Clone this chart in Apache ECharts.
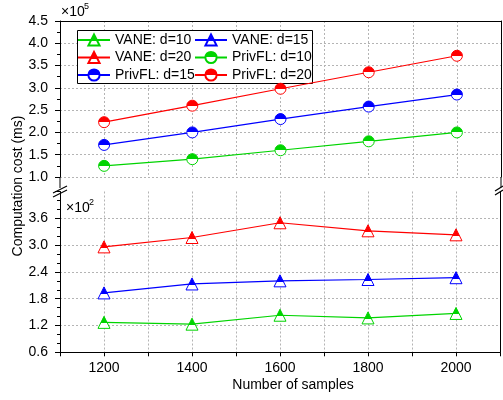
<!DOCTYPE html>
<html>
<head>
<meta charset="utf-8">
<script src="https://cdn.jsdelivr.net/npm/echarts@6/dist/echarts.min.js"></script>
<style>
  html, body { margin: 0; padding: 0; background: #fff; }
  #chart { width: 503px; height: 400px; }
</style>
</head>
<body>
<div id="chart"></div>
<script>
// x values
var samples = [1200, 1400, 1600, 1800, 2000];
// upper panel (x10^5 ms)
var privfl10 = [1.25, 1.40, 1.60, 1.80, 2.00];
var privfl15 = [1.72, 2.00, 2.30, 2.58, 2.85];
var privfl20 = [2.23, 2.60, 2.98, 3.35, 3.72];
// lower panel (x10^2 ms)
var vane10 = [1.27, 1.23, 1.43, 1.37, 1.47];
var vane15 = [1.93, 2.13, 2.20, 2.23, 2.27];
var vane20 = [2.96, 3.17, 3.50, 3.32, 3.23];

var FONT = "'Liberation Sans', Arial, sans-serif";
var GREEN = '#00d400', BLUE = '#0000ff', RED = '#ff0000';

function pairs(arr) {
  return samples.map(function (s, i) { return [s, arr[i]]; });
}

// top half coloured, bottom half white
function halfFill(c, stop) {
  return {
    type: 'linear', x: 0, y: 0, x2: 0, y2: 1,
    colorStops: [
      { offset: 0, color: c }, { offset: stop, color: c },
      { offset: stop, color: '#fff' }, { offset: 1, color: '#fff' }
    ]
  };
}

function makeSeries(name, arr, color, symbol, panel) {
  var tri = symbol === 'triangle';
  return {
    name: name,
    type: 'line',
    xAxisIndex: panel,
    yAxisIndex: panel === 0 ? 0 : 2,
    data: pairs(arr),
    symbol: symbol,
    symbolSize: tri ? 12 : 11,
    showSymbol: true,
    lineStyle: { color: color, width: 1.2 },
    itemStyle: { color: halfFill(color, tri ? 0.58 : 0.5), borderColor: color, borderWidth: 1 },
    emphasis: { disabled: true },
    animation: false
  };
}

var chart = echarts.init(document.getElementById('chart'));

var gridLine = { show: true, lineStyle: { color: '#b4b4b4', type: [2, 2], width: 1 } };
var blackLine = { show: true, onZero: false, lineStyle: { color: '#000', width: 1 } };

var option = {
  backgroundColor: '#fff',
  textStyle: { fontFamily: FONT },
  grid: [
    { left: 60, right: 2, top: 21, height: 156 },
    { left: 60, right: 2, top: 191.5, height: 160.8 }
  ],
  xAxis: [
    {
      gridIndex: 0, type: 'value', position: 'top',
      min: 1100, max: 2100, interval: 100,
      axisLine: blackLine, axisTick: { show: false }, axisLabel: { show: false },
      splitLine: gridLine
    },
    {
      gridIndex: 1, type: 'value', position: 'bottom',
      min: 1100, max: 2100, interval: 100,
      name: 'Number of samples', nameLocation: 'middle', nameGap: 26,
      nameTextStyle: { fontSize: 14, color: '#000', fontFamily: FONT, padding: [0, 0, 0, 26] },
      axisLine: blackLine,
      axisTick: { show: true, length: 4, lineStyle: { color: '#000' } },
      axisLabel: {
        fontSize: 14, color: '#000', fontFamily: FONT, margin: 9,
        formatter: function (v) { return v % 200 === 0 ? String(v) : ''; }
      },
      splitLine: gridLine
    }
  ],
  yAxis: [
    {
      gridIndex: 0, type: 'value', position: 'left',
      min: 1, max: 4.5, interval: 0.5,
      axisLine: blackLine,
      axisTick: { show: true, length: 5, lineStyle: { color: '#000' } },
      minorTick: { show: true, splitNumber: 2, length: 3, lineStyle: { color: '#000' } },
      axisLabel: {
        fontSize: 14, color: '#000', fontFamily: FONT, margin: 12,
        formatter: function (v) { return v.toFixed(1); }
      },
      splitLine: gridLine
    },
    {
      gridIndex: 0, type: 'value', position: 'right',
      min: 1, max: 4.5, interval: 0.5,
      axisLine: blackLine, axisTick: { show: false }, axisLabel: { show: false },
      splitLine: { show: false }
    },
    {
      gridIndex: 1, type: 'value', position: 'left',
      min: 0.6, max: 4.2, interval: 0.6,
      axisLine: blackLine,
      axisTick: { show: true, length: 5, lineStyle: { color: '#000' } },
      minorTick: { show: true, splitNumber: 3, length: 3, lineStyle: { color: '#000' } },
      axisLabel: {
        fontSize: 14, color: '#000', fontFamily: FONT, margin: 12, showMaxLabel: false,
        formatter: function (v) { return v.toFixed(1); }
      },
      splitLine: { show: true, showMaxLine: false, lineStyle: { color: '#b4b4b4', type: [2, 2], width: 1 } }
    },
    {
      gridIndex: 1, type: 'value', position: 'right',
      min: 0.6, max: 4.2, interval: 0.6,
      axisLine: blackLine, axisTick: { show: false }, axisLabel: { show: false },
      splitLine: { show: false }
    }
  ],
  legend: [
    {
      left: 77, top: 33, orient: 'vertical', padding: 0,
      itemWidth: 32, itemHeight: 14, itemGap: 3.5,
      textStyle: { fontSize: 14, color: '#000', fontFamily: FONT },
      data: ['VANE: d=10', 'VANE: d=20', 'PrivFL: d=15']
    },
    {
      left: 194, top: 33, orient: 'vertical', padding: 0,
      itemWidth: 32, itemHeight: 14, itemGap: 3.5,
      textStyle: { fontSize: 14, color: '#000', fontFamily: FONT },
      data: ['VANE: d=15', 'PrivFL: d=10', 'PrivFL: d=20']
    }
  ],
  graphic: [
    // legend frame
    { type: 'rect', z: 3, shape: { x: 77.5, y: 30.5, width: 235, height: 53 },
      style: { fill: '#fff', stroke: '#000', lineWidth: 1 } },
    // axis extensions down to the break
    { type: 'line', z: 3, shape: { x1: 60, y1: 177, x2: 60, y2: 188 }, style: { stroke: '#000', lineWidth: 1 } },
    { type: 'line', z: 3, shape: { x1: 501, y1: 177, x2: 501, y2: 187 }, style: { stroke: '#000', lineWidth: 1 } },
    // break marks
    { type: 'line', z: 3, shape: { x1: 53, y1: 193, x2: 67, y2: 186 }, style: { stroke: '#000', lineWidth: 1.2 } },
    { type: 'line', z: 3, shape: { x1: 53, y1: 197, x2: 67, y2: 190 }, style: { stroke: '#000', lineWidth: 1.2 } },
    { type: 'line', z: 3, shape: { x1: 495, y1: 191, x2: 503, y2: 186 }, style: { stroke: '#000', lineWidth: 1.2 } },
    { type: 'line', z: 3, shape: { x1: 495, y1: 195, x2: 503, y2: 190 }, style: { stroke: '#000', lineWidth: 1.2 } },
    // scale factors
    { type: 'text', z: 3, x: 61, y: 12, style: { text: '×10', fontSize: 14, fill: '#000', fontFamily: FONT, textVerticalAlign: 'middle' } },
    { type: 'text', z: 3, x: 84, y: 7, style: { text: '5', fontSize: 9, fill: '#000', fontFamily: FONT, textVerticalAlign: 'middle' } },
    { type: 'text', z: 3, x: 66, y: 208, style: { text: '×10', fontSize: 14, fill: '#000', fontFamily: FONT, textVerticalAlign: 'middle' } },
    { type: 'text', z: 3, x: 89, y: 203, style: { text: '2', fontSize: 9, fill: '#000', fontFamily: FONT, textVerticalAlign: 'middle' } },
    // y axis title
    { type: 'text', z: 3, x: 18, y: 186, rotation: Math.PI / 2,
      style: { text: 'Computation cost (ms)', fontSize: 14, fill: '#000', fontFamily: FONT,
               textAlign: 'center', textVerticalAlign: 'middle' } }
  ],
  series: [
    makeSeries('VANE: d=10', vane10, GREEN, 'triangle', 1),
    makeSeries('VANE: d=15', vane15, BLUE, 'triangle', 1),
    makeSeries('VANE: d=20', vane20, RED, 'triangle', 1),
    makeSeries('PrivFL: d=10', privfl10, GREEN, 'circle', 0),
    makeSeries('PrivFL: d=15', privfl15, BLUE, 'circle', 0),
    makeSeries('PrivFL: d=20', privfl20, RED, 'circle', 0)
  ]
};

chart.setOption(option);
</script>
</body>
</html>
